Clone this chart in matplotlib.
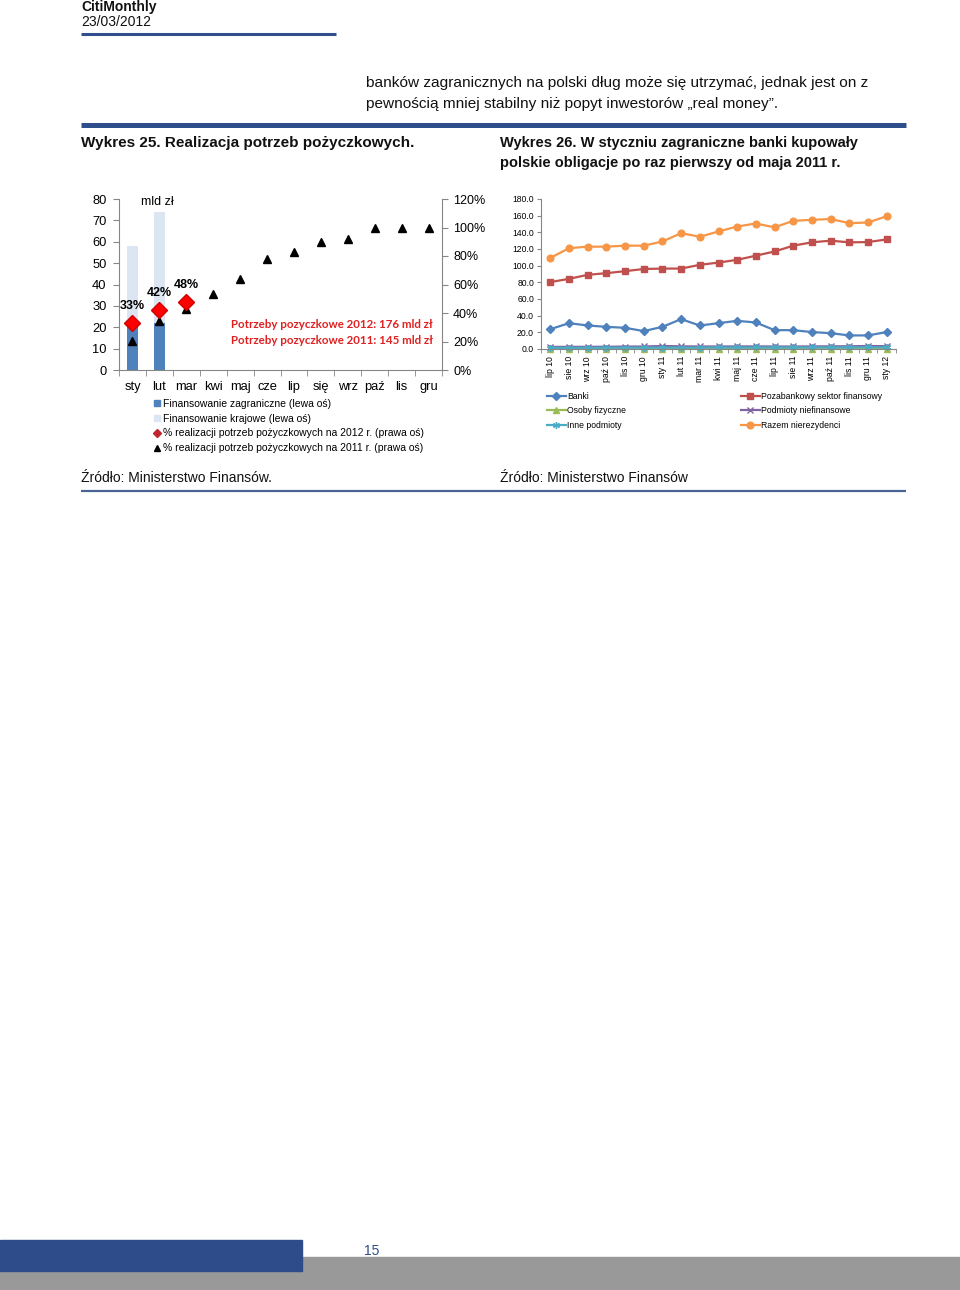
import numpy as np
import matplotlib
matplotlib.use("Agg")
import matplotlib.pyplot as plt
from matplotlib import font_manager
from matplotlib.lines import Line2D
from matplotlib.patches import Patch, Rectangle

# fonts: narrow face for the Excel-like chart on the right if available
names = {f.name for f in font_manager.fontManager.ttflist}
NARROW = 'Liberation Sans Narrow' if 'Liberation Sans Narrow' in names else 'Liberation Sans'
NSIZE = 7 if NARROW == 'Liberation Sans Narrow' else 6.2
plt.rcParams['font.family'] = ['Liberation Sans', 'DejaVu Sans']

# --- Wykres 25 data ---
months = ['sty', 'lut', 'mar', 'kwi', 'maj', 'cze', 'lip', 'się', 'wrz', 'paź', 'lis', 'gru']
foreign = [20, 22]          # mld zl, finansowanie zagraniczne
domestic = [38, 52]         # mld zl, finansowanie krajowe
real_2012 = [0.33, 0.42, 0.48]
real_2011 = [0.207, 0.345, 0.426, 0.536, 0.64, 0.78, 0.83, 0.90, 0.92, 1.0, 1.0, 1.0]
pct_labels = ['33%', '42%', '48%']

# --- Wykres 26 data ---
dates = ['lip 10', 'sie 10', 'wrz 10', 'paź 10', 'lis 10', 'gru 10', 'sty 11', 'lut 11',
         'mar 11', 'kwi 11', 'maj 11', 'cze 11', 'lip 11', 'sie 11', 'wrz 11', 'paź 11',
         'lis 11', 'gru 11', 'sty 12']
banki = [23.8, 31.0, 28.2, 26.6, 25.4, 21.5, 26.6, 35.8, 28.2, 31.0, 33.8, 31.8, 22.6,
         22.6, 20.3, 19.0, 16.3, 16.3, 20.3]
pozabank = [80.3, 84.2, 89.0, 91.0, 93.4, 96.0, 96.5, 96.5, 101.0, 103.7, 107.0, 112.0,
            117.0, 124.0, 128.0, 130.0, 128.0, 128.3, 131.5]
osoby = [0.3, 0.3, 0.3, 0.3, 0.4, 0.4, 0.4, 0.4, 0.4, 0.4, 0.4, 0.4, 0.4, 0.4, 0.4, 0.5,
         0.5, 0.5, 0.5]
niefin = [2.5, 2.6, 2.6, 2.7, 2.9, 3.0, 3.6, 3.2, 3.0, 3.0, 3.1, 3.1, 3.0, 3.0, 3.1, 3.2,
          3.3, 3.6, 3.4]
inne = [1.4, 1.4, 1.5, 1.5, 1.6, 1.6, 1.7, 1.7, 1.7, 1.8, 1.8, 1.8, 1.8, 1.9, 1.9, 1.9,
        2.0, 2.0, 2.0]
razem = [109.3, 121.0, 122.8, 122.8, 124.0, 124.0, 129.0, 139.0, 134.7, 141.0, 147.0,
         150.6, 146.0, 153.8, 155.0, 156.0, 151.0, 151.8, 159.3]

W, H = 960, 1290
def fx(x):
    return x / W
def fy(y):
    return 1 - y / H

fig = plt.figure(figsize=(9.6, 12.9), dpi=100)
BLUE = '#2F4E8C'

# page header
fig.text(fx(81), fy(7), 'CitiMonthly', fontsize=10, fontweight='bold', va='center', color='#111111')
fig.text(fx(81), fy(22), '23/03/2012', fontsize=10, va='center', color='#111111')
fig.add_artist(Line2D([fx(81), fx(336)], [fy(34), fy(34)], lw=2.2, color=BLUE,
                      solid_capstyle='butt'))
fig.text(fx(366), fy(83), 'banków zagranicznych na polski dług może się utrzymać, jednak jest on z',
         fontsize=11.1, va='center', color='#111111')
fig.text(fx(366), fy(104), 'pewnością mniej stabilny niż popyt inwestorów „real money”.',
         fontsize=11.1, va='center', color='#111111')
fig.add_artist(Line2D([fx(81), fx(906)], [fy(125), fy(125)], lw=3.6, color=BLUE,
                      solid_capstyle='butt'))
fig.text(fx(81), fy(143), 'Wykres 25. Realizacja potrzeb pożyczkowych.', fontsize=11,
         fontweight='bold', va='center', color='#111111')
fig.text(fx(500), fy(143), 'Wykres 26. W styczniu zagraniczne banki kupowały', fontsize=10.5,
         fontweight='bold', va='center', color='#111111')
fig.text(fx(500), fy(163), 'polskie obligacje po raz pierwszy od maja 2011 r.', fontsize=10.5,
         fontweight='bold', va='center', color='#111111')

# ---------------- Wykres 25 ----------------
ax1 = fig.add_axes([fx(119), fy(370), (442 - 119) / W, (370 - 199) / H])
x = np.arange(len(months))
xb = x[:len(foreign)]
ax1.bar(xb, foreign, width=0.4, color='#4F81BD', zorder=2)
ax1.bar(xb, domestic, width=0.4, bottom=foreign, color='#DCE6F2', zorder=2)
ax1.set_xlim(-0.5, len(months) - 0.5)
ax1.set_ylim(0, 80)
ax1.set_yticks(np.arange(0, 81, 10))
ax1.set_xticks(x)
ax1.set_xticklabels(months)
ax1.set_xticks(np.arange(-0.5, len(months), 1), minor=True)
ax1.tick_params(axis='x', which='major', length=0, pad=8, labelsize=9.3)
ax1.tick_params(axis='x', which='minor', length=4, color='#868686')
ax1.tick_params(axis='y', length=4, pad=5, labelsize=9.3, color='#868686')
for s in ['top', 'right']:
    ax1.spines[s].set_visible(False)
for s in ['left', 'bottom']:
    ax1.spines[s].set_color('#868686')

ax2 = ax1.twinx()
ax2.set_ylim(0, 1.2)
ax2.set_yticks(np.arange(0, 1.21, 0.2))
ax2.set_yticklabels([f'{int(round(v * 100))}%' for v in np.arange(0, 1.21, 0.2)])
ax2.tick_params(axis='y', length=4, pad=4, labelsize=9, color='#868686')
for s in ['top', 'left', 'bottom']:
    ax2.spines[s].set_visible(False)
ax2.spines['right'].set_color('#868686')
ax2.plot(x, real_2011, ls='none', marker='^', color='black', ms=6, zorder=3)
ax2.plot(x[:len(real_2012)], real_2012, ls='none', marker='D', color='#FF0000',
         mec='#D00000', ms=8.5, zorder=4)
for xi, v, lab in zip(x, real_2012, pct_labels):
    ax2.annotate(lab, (xi, v), xytext=(0, 12), textcoords='offset points', ha='center',
                 va='center', fontsize=9, fontweight='bold')

fig.text(fx(157), fy(202), 'mld zł', fontsize=9, ha='center', va='center')
fig.text(fx(433), fy(325), 'Potrzeby pozyczkowe 2012: 176 mld zł', fontsize=8.3,
         fontweight='bold', color='#E02020', ha='right', va='center', family=['Lato', 'DejaVu Sans'])
fig.text(fx(433), fy(341), 'Potrzeby pozyczkowe 2011: 145 mld zł', fontsize=8.3,
         fontweight='bold', color='#E02020', ha='right', va='center', family=['Lato', 'DejaVu Sans'])

h1 = [Patch(color='#4F81BD'), Patch(color='#DCE6F2'),
      Line2D([], [], ls='none', marker='D', color='#C0282D', ms=4),
      Line2D([], [], ls='none', marker='^', color='black', ms=5)]
l1 = ['Finansowanie zagraniczne (lewa oś)', 'Finansowanie krajowe (lewa oś)',
      '% realizacji potrzeb pożyczkowych na 2012 r. (prawa oś)',
      '% realizacji potrzeb pożyczkowych na 2011 r. (prawa oś)']
fig.legend(h1, l1, loc='upper left', bbox_to_anchor=(fx(154), fy(399)), frameon=False,
           fontsize=7.5, handlelength=0.55, handleheight=0.55, handletextpad=0.35,
           labelspacing=0.45, borderaxespad=0, borderpad=0)

# ---------------- Wykres 26 ----------------
ax3 = fig.add_axes([fx(541), fy(349), (896 - 541) / W, (349 - 199) / H])
xd = np.arange(len(dates))
series = [
    (banki, 'Banki', '#4F81BD', 'D', 3.8),
    (pozabank, 'Pozabankowy sektor finansowy', '#C0504D', 's', 4.2),
    (osoby, 'Osoby fizyczne', '#9BBB59', '^', 4),
    (niefin, 'Podmioty niefinansowe', '#8064A2', 'x', 4),
    (inne, 'Inne podmioty', '#4BACC6', (6, 2, 0), 5),
    (razem, 'Razem nierezydenci', '#F79646', 'o', 4.8),
]
lines = {}
for vals, lab, col, mk, ms in series:
    ln, = ax3.plot(xd, vals, color=col, lw=1.6, marker=mk, ms=ms, mew=1.0, label=lab,
                   clip_on=False)
    lines[lab] = ln
ax3.set_xlim(-0.5, len(dates) - 0.5)
ax3.set_ylim(0, 180)
ax3.set_yticks(np.arange(0, 181, 20))
ax3.set_yticklabels([f'{v:.1f}' for v in np.arange(0, 181, 20)], family=[NARROW, 'DejaVu Sans'])
ax3.set_xticks(xd)
ax3.set_xticklabels(dates, rotation=90, family=[NARROW, 'DejaVu Sans'])
ax3.set_xticks(np.arange(-0.5, len(dates), 1), minor=True)
ax3.tick_params(axis='x', which='major', length=0, pad=5, labelsize=NSIZE)
ax3.tick_params(axis='x', which='minor', length=3, color='#868686')
ax3.tick_params(axis='y', length=3, pad=2, labelsize=NSIZE, color='#868686')
for s in ['top', 'right']:
    ax3.spines[s].set_visible(False)
for s in ['left', 'bottom']:
    ax3.spines[s].set_color('#868686')

leg_kw = dict(loc='upper left', frameon=False, handlelength=2.2, handletextpad=0.15,
              labelspacing=0.62, borderaxespad=0, borderpad=0,
              prop={'family': [NARROW, 'DejaVu Sans'], 'size': NSIZE})
left_col = ['Banki', 'Osoby fizyczne', 'Inne podmioty']
right_col = ['Pozabankowy sektor finansowy', 'Podmioty niefinansowe', 'Razem nierezydenci']
lg1 = fig.legend([lines[k] for k in left_col], left_col, bbox_to_anchor=(fx(547), fy(392)), **leg_kw)
fig.legend([lines[k] for k in right_col], right_col, bbox_to_anchor=(fx(741), fy(392)), **leg_kw)

# sources and separator
fig.text(fx(81), fy(478), 'Źródło: Ministerstwo Finansów.', fontsize=10, va='center', color='#111111')
fig.text(fx(500), fy(478), 'Źródło: Ministerstwo Finansów', fontsize=10, va='center', color='#111111')
fig.add_artist(Line2D([fx(81), fx(906)], [fy(491), fy(491)], lw=1.6, color='#4A6595',
                      solid_capstyle='butt'))

# footer
fig.add_artist(Rectangle((0, 0), 1, (H - 1257) / H, transform=fig.transFigure,
                         color='#999999', zorder=0))
fig.add_artist(Rectangle((0, fy(1271)), 302 / W, 31 / H, transform=fig.transFigure,
                         color='#2E4C8A', zorder=1))
fig.text(fx(372), fy(1251), '15', fontsize=10, ha='center', va='center', color='#2E4C8A')

fig.savefig('out.png', dpi=100)
